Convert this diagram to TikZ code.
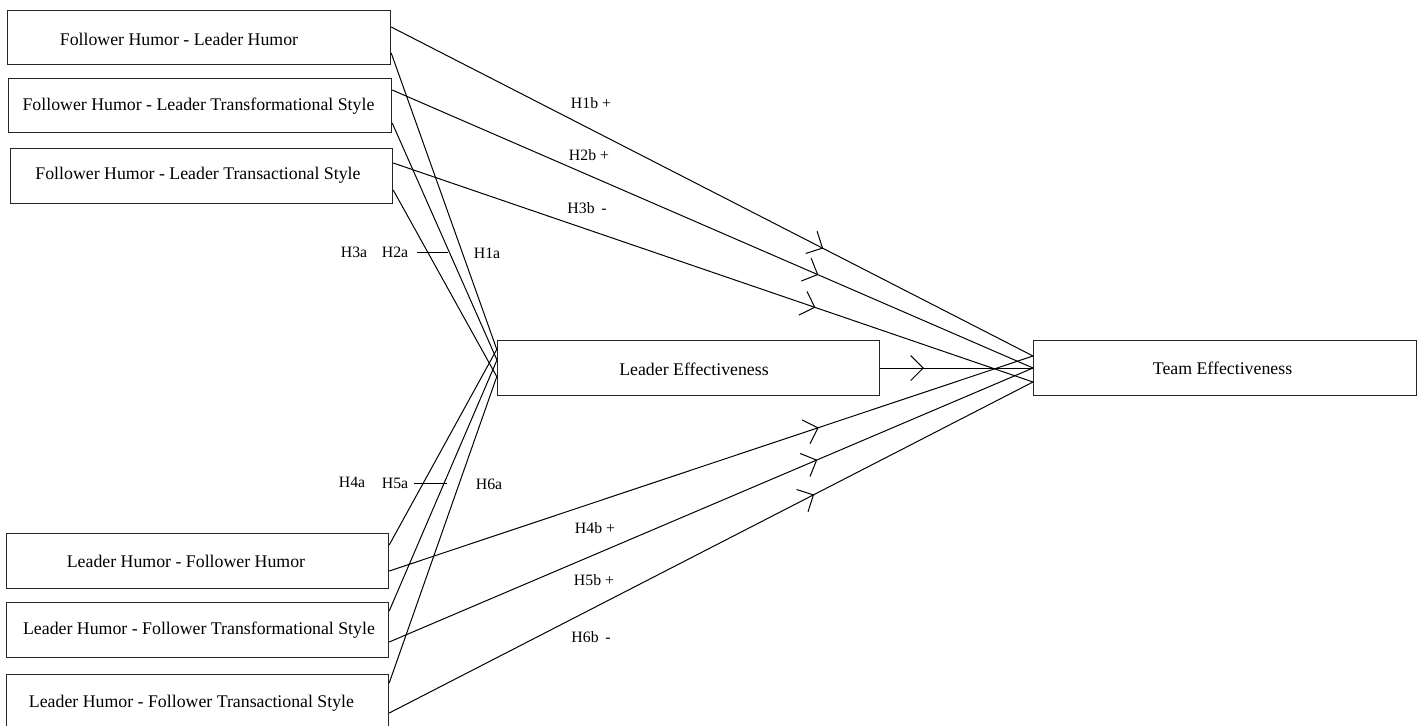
\documentclass[tikz,border=0pt]{standalone}
\usepackage{fontspec}
\setmainfont{Liberation Serif}
\usetikzlibrary{arrows.meta,decorations.markings,calc}
\begin{document}
\begin{tikzpicture}[x=1pt,y=-1pt,
  box/.style={draw=black!85, line width=1.2pt, rectangle, inner sep=0pt, anchor=north west},
  txt/.style={font=\fontsize{17.8}{20}\selectfont, inner sep=0pt},
  lab/.style={font=\fontsize{15.8}{18}\selectfont, inner sep=0pt},
  con/.style={line width=1pt},
  midarrow/.style={con, postaction={decorate}, decoration={markings, mark=at position #1 with {\arrow{Straight Barb[length=12.5pt,width=25pt,line width=1pt]}}}}
]
\useasboundingbox (0,0) rectangle (1423,725);
\clip (0,0) rectangle (1423,725);

% boxes
\node[box, minimum width=383pt, minimum height=54pt] (b1) at (7,10) {};
\node[box, minimum width=383pt, minimum height=54pt] (b2) at (8,78) {};
\node[box, minimum width=382pt, minimum height=55pt] (b3) at (10,148) {};
\node[box, minimum width=382pt, minimum height=55pt] (le) at (497,340) {};
\node[box, minimum width=383pt, minimum height=55pt] (te) at (1033,340) {};
\node[box, minimum width=382pt, minimum height=55pt] (b6) at (6,533) {};
\node[box, minimum width=382pt, minimum height=55pt] (b7) at (6,602) {};
\node[box, minimum width=382pt, minimum height=56pt] (b8) at (6,674) {};

% texts
\node[txt] (t1) at (179,39) {Follower Humor - Leader Humor};
\node[txt] (t2) at (198.5,106) {Follower Humor - Leader Transformational Style};
\node[txt] (t3) at (198,175) {Follower Humor - Leader Transactional Style};
\node[txt] (tle) at (694,369) {Leader Effectiveness};
\node[txt] (tte) at (1222.5,368) {Team Effectiveness};
\node[txt] (t6) at (186,561) {Leader Humor - Follower Humor};
\node[txt] (t7) at (199,630) {Leader Humor - Follower Transformational Style};
\node[txt] (t8) at (191.5,703) {Leader Humor - Follower Transactional Style};

% connectors to leader effectiveness
\draw[con] ($(b1.north east)+(0,43)$) -- ($(le.north west)+(0,10)$);
\draw[con] ($(b2.north east)+(0,45)$) -- ($(le.north west)+(0,20)$);
\draw[con] ($(b3.north east)+(0,42)$) -- ($(le.north west)+(0,37)$);
\draw[con] ($(b6.north east)+(0,12)$) -- ($(le.north west)+(0,9)$);
\draw[con] ($(b7.north east)+(0,9)$) -- ($(le.north west)+(0,20)$);
\draw[con] ($(b8.north east)+(0,9)$) -- ($(le.north west)+(0,36)$);

% connectors to team effectiveness
\draw[midarrow=0.673] ($(b1.north east)+(0,17)$) -- ($(te.north west)+(0,16)$);
\draw[midarrow=0.665] ($(b2.north east)+(0,12)$) -- ($(te.north west)+(0,28)$);
\draw[midarrow=0.660] ($(b3.north east)+(0,15)$) -- ($(te.north west)+(0,42)$);
\draw[midarrow=0.667] ($(b6.north east)+(0,38)$) -- ($(te.north west)+(0,16)$);
\draw[midarrow=0.665] ($(b7.north east)+(0,40)$) -- ($(te.north west)+(0,28)$);
\draw[midarrow=0.660] ($(b8.north east)+(0,39)$) -- ($(te.north west)+(0,42)$);
\draw[midarrow=0.286] ($(le.north east)+(0,28)$) -- ($(te.north west)+(0,28)$);

% marker lines
\coordinate (m1a) at (417,252);
\coordinate (m1b) at (448,252);
\coordinate (m2a) at (414,483);
\coordinate (m2b) at (447,483);
\draw[con] (m1a) -- (m1b);
\draw[con] (m2a) -- (m2b);

% labels
\node[lab] (h3a) at (354,252) {H3a};
\node[lab] (h2a) at (395,252) {H2a};
\node[lab] (h1a) at (487,253) {H1a};
\node[lab] (h4a) at (352,482) {H4a};
\node[lab] (h5a) at (395,483) {H5a};
\node[lab] (h6a) at (489,484) {H6a};
\node[lab] (h1b) at (591,103) {H1b +};
\node[lab] (h2b) at (589,155) {H2b +};
\node[lab] (h3b) at (587,208) {H3b \,-};
\node[lab] (h4b) at (595,528) {H4b +};
\node[lab] (h5b) at (594,580) {H5b +};
\node[lab] (h6b) at (591,637) {H6b \,-};
\end{tikzpicture}
\end{document}
